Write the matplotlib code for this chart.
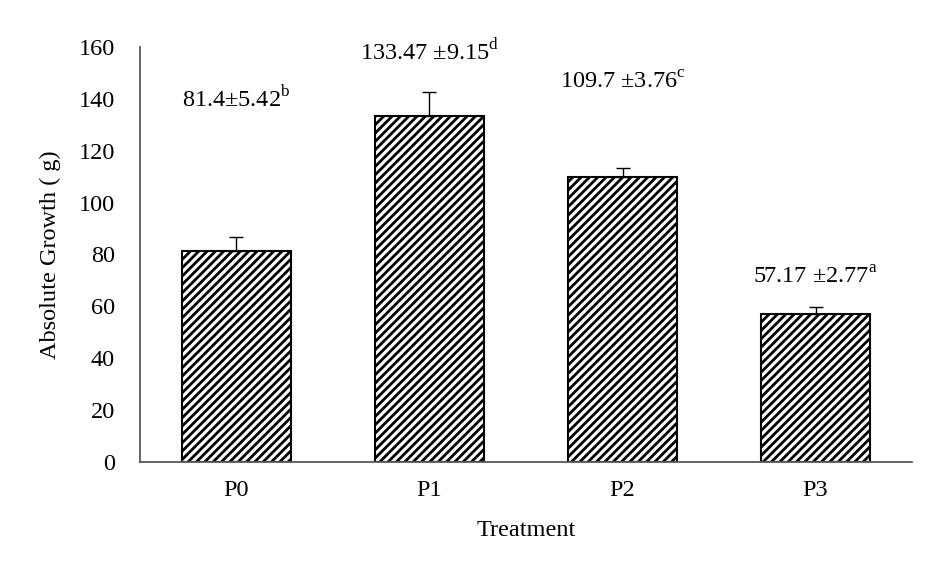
import numpy as np
import matplotlib.pyplot as plt
import matplotlib as mpl

plt.rcParams['font.family'] = ['Liberation Serif', 'DejaVu Serif']
plt.rcParams['mathtext.fontset'] = 'custom'
plt.rcParams['mathtext.rm'] = 'Liberation Serif'
plt.rcParams['hatch.linewidth'] = 2.0
plt.rcParams['hatch.color'] = 'black'

# datos
tratamientos = ['P0', 'P1', 'P2', 'P3']
crecimiento = [81.4, 133.47, 109.7, 57.17]
desviacion = [5.42, 9.15, 3.76, 2.77]
etiquetas = ['81.4±5.42$^{\\mathrm{b}}$', '133.47 ±9.15$^{\\mathrm{d}}$',
             '109.7 ±3.76$^{\\mathrm{c}}$', '57.17 ±2.77$^{\\mathrm{a}}$']
# desplazamiento vertical de cada etiqueta (puntos sobre la barra de error)
label_dy = [99, 29, 61, 21]

fig = plt.figure(figsize=(9.51, 5.64), dpi=100)
ax = fig.add_axes([0.1472, 0.1809, 0.8118, 0.7358])

x = np.arange(len(tratamientos))
ax.bar(x, crecimiento, width=0.56, color='white', edgecolor='black',
       linewidth=1.5, hatch='////')
ax.errorbar(x, crecimiento, yerr=[np.zeros(len(x)), desviacion], fmt='none',
            ecolor='black', elinewidth=1, capsize=5, capthick=1)

for i in range(len(x)):
    ax.annotate(etiquetas[i], xy=(x[i], crecimiento[i] + desviacion[i]),
                xytext=(0, label_dy[i]), textcoords='offset points',
                ha='center', va='center', fontsize=17.5)

ax.set_xlim(-0.5, len(x) - 0.5)
ax.set_ylim(0, 160)
ax.set_yticks(np.arange(0, 161, 20))
ax.set_xticks(x)
ax.set_xticklabels(tratamientos)
ax.tick_params(axis='both', length=0, labelsize=17.5)
ax.tick_params(axis='y', pad=18)
ax.tick_params(axis='x', pad=13)

for s in ['top', 'right']:
    ax.spines[s].set_visible(False)
for s in ['left', 'bottom']:
    ax.spines[s].set_color('#595959')
    ax.spines[s].set_linewidth(1.3)

ax.set_xlabel('Treatment', fontsize=17.5, labelpad=14)
ax.set_ylabel('Absolute Growth ( g)', fontsize=17.5, labelpad=13)

fig.savefig('out.png', dpi=100)
